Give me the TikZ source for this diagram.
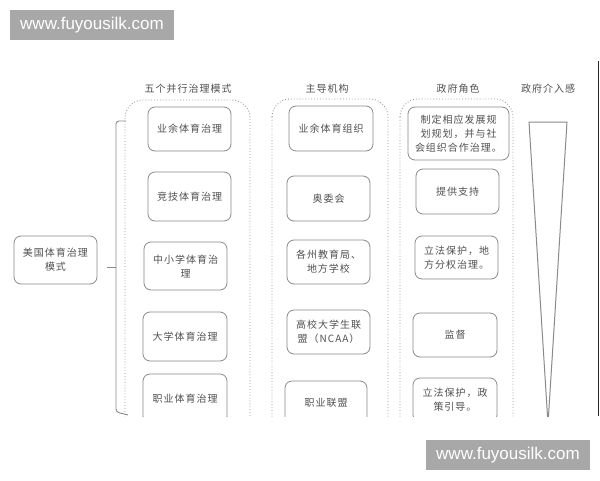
\documentclass[tikz,border=0pt]{standalone}
\usepackage{fontspec}
\setmainfont{Liberation Sans}
\newfontfamily\cjk[LetterSpace=10]{Noto Sans CJK SC}
\definecolor{boxline}{HTML}{8A8A8A}
\definecolor{txt}{HTML}{505050}
\definecolor{dotline}{HTML}{9A9A9A}
\definecolor{wmgray}{HTML}{A8A8A8}
\tikzset{
  cbox/.style={draw=boxline, line width=0.8pt, rounded corners=7pt, align=center,
    text=txt, font=\cjk\fontsize{10}{14}\selectfont, inner sep=0pt},
  ttl/.style={text=txt, font=\cjk\fontsize{10}{12}\selectfont, inner sep=0pt},
  cont/.style={draw=dotline, dotted, line width=0.9pt, rounded corners=18pt},
  wm/.style={fill=wmgray, text=white, font=\fontsize{17}{17}\selectfont,
    minimum width=164pt, minimum height=30pt, inner sep=0pt},
  conn/.style={draw=boxline, line width=0.9pt}
}
\begin{document}
\begin{tikzpicture}[x=1pt,y=-1pt]
\useasboundingbox (0,0) rectangle (600,480);
\fill[white] (0,0) rectangle (600,480);
% watermarks
\node[wm] (wm1) at (92,25) {www.fuyousilk.com};
\node[wm] (wm2) at (508,455) {www.fuyousilk.com};
% right border line
\draw[line width=1.6pt, black!85] (598.5,61) -- (598.5,416);
% titles
\node[ttl] (t1) at (188,89) {五个并行治理模式};
\node[ttl] (t2) at (327,89) {主导机构};
\node[ttl] (t3) at (458,89) {政府角色};
\node[ttl] (t4) at (548,89) {政府介入感};
\begin{scope}
\clip (0,50) rectangle (600,416);
% containers
\draw[cont] (125,100) rectangle (250,450);
\draw[cont] (272,99) rectangle (388,450);
\draw[cont] (400,99) rectangle (513,450);
% left node
\node[cbox, minimum width=83pt, minimum height=48pt] (root) at (55.5,260) {美国体育治理\\模式};
% column 1
\node[cbox, minimum width=83pt, minimum height=44pt] (a1) at (189.5,129) {业余体育治理};
\node[cbox, minimum width=83pt, minimum height=49pt] (a2) at (189.5,196.5) {竞技体育治理};
\node[cbox, minimum width=83pt, minimum height=48pt] (a3) at (185.5,266) {中小学体育治\\理};
\node[cbox, minimum width=84pt, minimum height=49pt] (a4) at (185,336.5) {大学体育治理};
\node[cbox, minimum width=84pt, minimum height=49pt] (a5) at (185,398.5) {职业体育治理};
% column 2
\node[cbox, minimum width=84pt, minimum height=45pt] (b1) at (331,128.5) {业余体育组织};
\node[cbox, minimum width=83pt, minimum height=45pt] (b2) at (328.5,198.5) {奥委会};
\node[cbox, minimum width=83pt, minimum height=44pt] (b3) at (328.5,262) {各州教育局、\\地方学校};
\node[cbox, minimum width=83pt, minimum height=44pt] (b4) at (328.5,332) {高校大学生联\\盟（NCAA）};
\node[cbox, minimum width=82pt, minimum height=44pt] (b5) at (326,403) {职业联盟};
% column 3
\node[cbox, minimum width=101pt, minimum height=53pt] (c1) at (458.5,133.5) {制定相应发展规\\划规划，并与社\\会组织合作治理。};
\node[cbox, minimum width=83pt, minimum height=45pt] (c2) at (457.5,191.5) {提供支持};
\node[cbox, minimum width=83pt, minimum height=43pt] (c3) at (456.5,257.5) {立法保护，地\\方分权治理。};
\node[cbox, minimum width=84pt, minimum height=44pt] (c4) at (455,335) {监督};
\node[cbox, minimum width=84pt, minimum height=44pt] (c5) at (455,400) {立法保护，政\\策引导。};
% bracket
\coordinate (btop) at (126,121);
\coordinate (bbot) at (128,415);
\coordinate (bmid) at (116,267);
\coordinate (tickl) at (107,267);
\draw[conn, rounded corners=3pt] (btop) -- (116,121) -- (116,412) -- (bbot);
\draw[conn] (tickl) -- (bmid);
% funnel
\draw[draw=boxline, line width=1pt, line join=miter] (529,122) -- (567,122) -- (548,424) -- cycle;
\end{scope}
\end{tikzpicture}
\end{document}
